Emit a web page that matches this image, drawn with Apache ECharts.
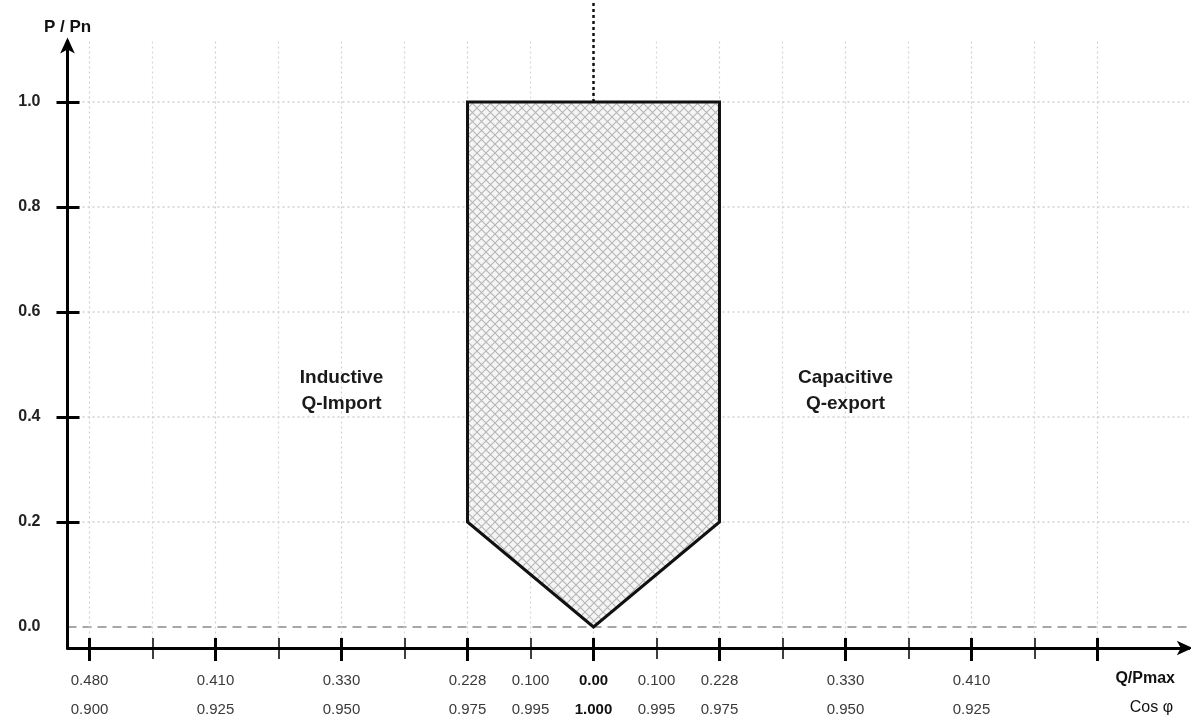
<!DOCTYPE html>
<html><head><meta charset="utf-8">
<script src="https://cdn.jsdelivr.net/npm/echarts@6/dist/echarts.min.js"></script>
<style>html,body{margin:0;padding:0;background:#fff}#c{width:1191px;height:724px}</style>
</head><body><div id="c"></div>
<script>
// ---- data ----
const labelPositions = [-8, -6, -4, -2, -1, 0, 1, 2, 4, 6];
const qLabels   = ['0.480','0.410','0.330','0.228','0.100','0.00','0.100','0.228','0.330','0.410'];
const cosLabels = ['0.900','0.925','0.950','0.975','0.995','1.000','0.995','0.975','0.950','0.925'];
const majorTicks = [-8, -6, -4, -2, 0, 2, 4, 6, 8];
const minorTicks = [-7, -5, -3, -1, 1, 3, 5, 7];
const yLabelValues = [0, 0.2, 0.4, 0.6, 0.8, 1.0];
const yTickValues = [0.2, 0.4, 0.6, 0.8, 1.0];
const zeroLine = [0];
const regionPolygon = [[-2, 1.0], [2, 1.0], [2, 0.2], [0, 0], [-2, 0.2]];
const referenceLine = [[0, 1.0], [0, 1.19]];
const annotations = [
  { name: 'Inductive\nQ-Import', value: [-4, 0.45] },
  { name: 'Capacitive\nQ-export', value: [4, 0.45] }
];

const FONT = '"Liberation Sans", Arial, sans-serif';
const X_MIN = -8.35, X_MAX = 9.45, Y_MIN = -0.04, Y_MAX = 1.115;

function hatch() {
  const s = 9;
  const c = document.createElement('canvas');
  c.width = s; c.height = s;
  const g = c.getContext('2d');
  g.fillStyle = '#f5f5f5'; g.fillRect(0, 0, s, s);
  g.strokeStyle = '#b5b5b5'; g.lineWidth = 1.1;
  g.beginPath();
  g.moveTo(0, 0); g.lineTo(s, s);
  g.moveTo(s, 0); g.lineTo(0, s);
  g.stroke();
  return c;
}

const chart = echarts.init(document.getElementById('c'));
const baseX = { type: 'value', min: X_MIN, max: X_MAX, position: 'bottom', gridIndex: 0 };
const baseY = { type: 'value', min: Y_MIN, max: Y_MAX, position: 'left', gridIndex: 0 };

chart.setOption({
  animation: false,
  backgroundColor: '#fff',
  grid: { left: 67.5, right: 2.2, top: 41.6, bottom: 76 },
  xAxis: [
    Object.assign({}, baseX, {
      axisLine: { show: true, onZero: false, symbol: ['none', 'arrow'], symbolSize: [11, 16], symbolOffset: [0, 4],
        lineStyle: { color: '#000', width: 3 } },
      axisTick: { show: false },
      splitLine: { show: false },
      axisLabel: {
        customValues: labelPositions, margin: 18,
        formatter: function (v) {
          const i = labelPositions.indexOf(v);
          if (i < 0) return '';
          const st = v === 0 ? 'b' : 'n';
          return '{' + st + '|' + qLabels[i] + '}\n{' + st + '|' + cosLabels[i] + '}';
        },
        rich: {
          n: { fontFamily: FONT, fontSize: 15, color: '#3a3a3a', lineHeight: 29 },
          b: { fontFamily: FONT, fontSize: 15, color: '#111', fontWeight: 'bold', lineHeight: 29 }
        }
      }
    }),
    Object.assign({}, baseX, {
      offset: -10,
      axisLine: { show: false, onZero: false },
      axisLabel: { show: false },
      axisTick: { show: true, customValues: majorTicks, length: 23, lineStyle: { color: '#000', width: 3 } },
      splitLine: { show: true, lineStyle: { color: '#cfcfcf', width: 1.2, type: [2, 3] } }
    }),
    Object.assign({}, baseX, {
      offset: -10,
      axisLine: { show: false, onZero: false },
      axisLabel: { show: false },
      axisTick: { show: true, customValues: minorTicks, length: 21, lineStyle: { color: '#000', width: 1.5 } },
      splitLine: { show: true, lineStyle: { color: '#d6d6d6', width: 1.2, type: [2, 3] } }
    })
  ],
  yAxis: [
    Object.assign({}, baseY, {
      name: 'P / Pn', nameLocation: 'end', nameGap: 6,
      nameTextStyle: { fontFamily: FONT, fontSize: 17, fontWeight: 'bold', color: '#111', align: 'center' },
      axisLine: { show: true, onZero: false, symbol: ['none', 'arrow'], symbolSize: [11, 16], symbolOffset: [0, 4],
        lineStyle: { color: '#000', width: 3 } },
      axisTick: { show: false },
      splitLine: { show: false },
      axisLabel: {
        customValues: yLabelValues, margin: 27,
        formatter: function (v) { return v.toFixed(1); },
        fontFamily: FONT, fontSize: 16, fontWeight: 'bold', color: '#222'
      }
    }),
    Object.assign({}, baseY, {
      offset: -12,
      axisLine: { show: false, onZero: false },
      axisLabel: { show: false },
      axisTick: { show: true, customValues: yTickValues, length: 23, lineStyle: { color: '#000', width: 3 } },
      splitLine: { show: true, lineStyle: { color: '#cfcfcf', width: 1.5, type: [2, 3] } }
    }),
    Object.assign({}, baseY, {
      axisLine: { show: false, onZero: false },
      axisLabel: { show: false },
      axisTick: { show: false, customValues: zeroLine },
      splitLine: { show: true, lineStyle: { color: '#8a8a8a', width: 1.6, type: [9, 6] } }
    })
  ],
  series: [
    {
      type: 'custom', xAxisIndex: 0, yAxisIndex: 0, z: 5,
      data: regionPolygon,
      renderItem: function (params, api) {
        if (params.dataIndex !== 0) return null;
        const pts = regionPolygon.map(function (p) { return api.coord(p); });
        return {
          type: 'polygon',
          shape: { points: pts },
          style: { fill: { image: hatch(), repeat: 'repeat' }, stroke: '#111', lineWidth: 3, lineJoin: 'miter' }
        };
      }
    },
    {
      type: 'line', xAxisIndex: 0, yAxisIndex: 0, z: 4, clip: false,
      data: referenceLine, symbol: 'none',
      lineStyle: { color: '#111', width: 2.5, type: [3, 3] }
    },
    {
      type: 'scatter', xAxisIndex: 0, yAxisIndex: 0, symbolSize: 0,
      itemStyle: { opacity: 1 },
      data: annotations,
      label: {
        show: true, position: 'inside', formatter: function (p) { return p.name; },
        fontFamily: FONT, fontSize: 19, fontWeight: 'bold', color: '#1a1a1a', lineHeight: 26, align: 'center'
      }
    }
  ],
  graphic: [
    { type: 'text', right: 16, top: 671, style: { text: 'Q/Pmax', font: 'bold 16px "Liberation Sans", Arial', fill: '#111' } },
    { type: 'text', right: 18, top: 700, style: { text: 'Cos φ', font: '16px "Liberation Sans", Arial', fill: '#111' } }
  ]
});
</script>
</body></html>
